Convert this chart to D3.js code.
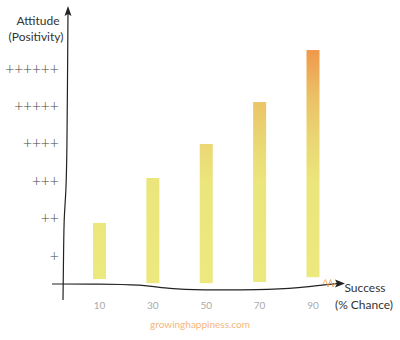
<!DOCTYPE html>
<html><head><meta charset="utf-8">
<script src="https://cdn.jsdelivr.net/npm/d3@7"></script>
<style>body{margin:0;background:#fff}svg{display:block}text{font-family:Lato,"Open Sans",sans-serif}</style>
</head><body><svg id="c" width="400" height="340"></svg>
<script>
const categories = ["10","30","50","70","90"];
const barTops = [1.86, 3.06, 3.97, 5.09, 6.48];
const barBases = [0.36, 0.25, 0.25, 0.28, 0.41];
const levelValues = [1,2,3,4,5,6];
const levelLabels = ["+","++","+++","++++","+++++","++++++"];

const svg = d3.select("#c");
const x = d3.scalePoint().domain(categories).range([99.5, 313]);
const y = d3.scaleLinear().domain([0, 6]).range([292.5, 68]);
const bw = 13;

const defs = svg.append("defs");
const g = defs.append("linearGradient").attr("id","grad").attr("gradientUnits","userSpaceOnUse")
  .attr("x1",0).attr("x2",0).attr("y1",y(0)).attr("y2",y(6.5));
[[0,"#ece97e"],[0.45,"#ebe67b"],[0.62,"#ead774"],[0.8,"#ebc266"],[1,"#f0984a"]].forEach(([o,c])=>
  g.append("stop").attr("offset",o).attr("stop-color",c));

svg.selectAll("rect.bar").data(categories).join("rect").attr("class","bar")
  .attr("x", d => x(d) - bw/2).attr("width", bw)
  .attr("y", (d,i) => y(barTops[i]))
  .attr("height", (d,i) => y(barBases[i]) - y(barTops[i]))
  .attr("fill","url(#grad)");

// hand-drawn y axis
const line = d3.line().curve(d3.curveBasis);
svg.append("path").attr("d", line([[63,300],[63.5,260],[64,215],[66,195],[67,150],[67.5,80],[68,12]]))
  .attr("fill","none").attr("stroke","#222").attr("stroke-width",1.2);
svg.append("path").attr("d","M68,6 L64.5,16 L68,14 L71.5,16 Z").attr("fill","#222");

// hand-drawn x axis
svg.append("path").attr("d", line([[52,284],[100,284],[140,284.5],[170,289],[200,290],[260,290],[300,288],[330,284],[338,283.5]]))
  .attr("fill","none").attr("stroke","#222").attr("stroke-width",1.2);
svg.append("path").attr("d","M345,283.5 L335,279.5 L337,283.5 L335,287.5 Z").attr("fill","#222");
svg.append("path").attr("d","M323,284 L325.5,279.5 L328,287 L330.5,279.5 L333,287 L335,283")
  .attr("fill","none").attr("stroke","#f3a85e").attr("stroke-width",0.9);

// y labels
svg.selectAll("text.yl").data(levelValues).join("text").attr("class","yl")
  .attr("x", 58).attr("y", d => y(d) + 4.5).attr("text-anchor","end")
  .style("font-family","'DejaVu Sans',sans-serif").attr("font-weight",200)
  .attr("font-size",12).attr("letter-spacing","-1.2px").attr("fill","#444")
  .text((d,i) => levelLabels[i]);

// x labels
svg.selectAll("text.xl").data(categories).join("text").attr("class","xl")
  .attr("x", d => x(d)).attr("y", 309).attr("text-anchor","middle")
  .attr("font-size",10).attr("fill","#aaa").text(d => d);

const t = (tx,ty,s,opts={}) => svg.append("text").attr("x",tx).attr("y",ty).text(s)
  .attr("font-size",opts.size||12).attr("fill",opts.fill||"#333").attr("text-anchor",opts.anchor||"middle");
t(38, 25, "Attitude");
t(36, 41, "(Positivity)");
t(365, 292, "Success");
t(364, 309, "(% Chance)");
t(200, 328, "growinghappiness.com", {size:10, fill:"#f5b57c"});
</script></body></html>
